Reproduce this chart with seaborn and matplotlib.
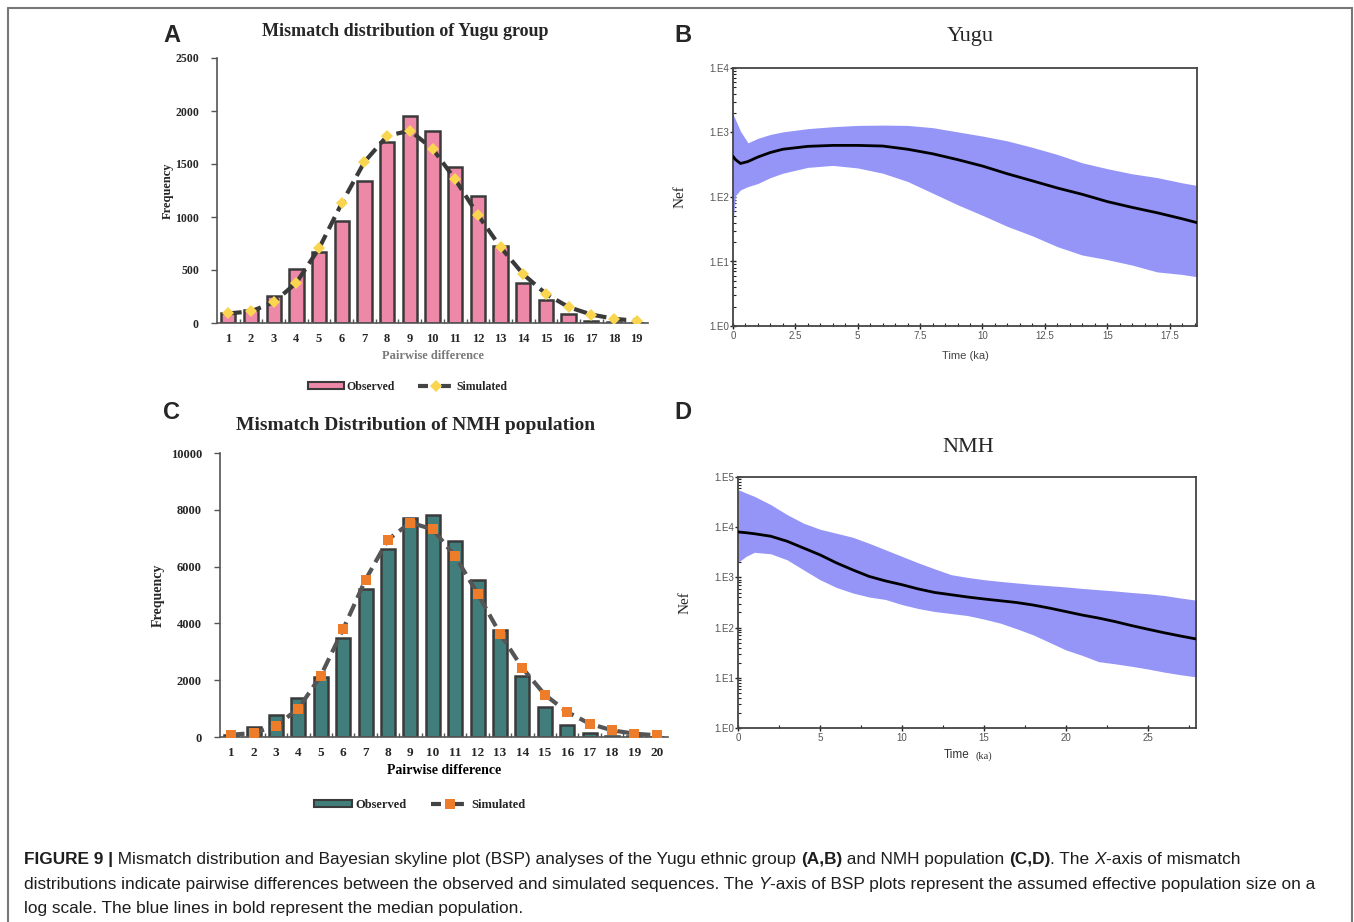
import numpy as np
import pandas as pd
import matplotlib
matplotlib.use("Agg")
import matplotlib.pyplot as plt
import matplotlib.ticker as mticker
from matplotlib.lines import Line2D
from matplotlib.patches import Patch
import seaborn as sns

# ---------------- data ----------------
yugu_diff = [str(i) for i in range(1, 20)]
yugu_observed = [95, 120, 250, 505, 670, 965, 1335, 1710, 1950, 1810, 1470, 1200, 725, 375, 220, 85, 20, 5, 0]
yugu_simulated = [90, 110, 195, 380, 705, 1130, 1520, 1765, 1815, 1645, 1355, 1020, 715, 460, 275, 150, 80, 40, 20]

nmh_diff = [str(i) for i in range(1, 21)]
nmh_observed = [80, 350, 760, 1370, 2110, 3500, 5200, 6630, 7710, 7830, 6900, 5520, 3760, 2140, 1045, 435, 150, 45, 20, 0]
nmh_simulated = [80, 140, 390, 1000, 2160, 3800, 5540, 6950, 7550, 7310, 6360, 5050, 3640, 2430, 1490, 880, 470, 235, 117, 60]

yugu_time = [0, 0.1, 0.3, 0.6, 1, 1.5, 2, 3, 4, 5, 6, 7, 8, 9, 10, 11, 12, 13, 14, 15, 16, 17, 18, 18.6]
yugu_median = [427, 380, 331, 355, 417, 490, 550, 610, 631, 631, 617, 550, 468, 380, 302, 229, 178, 138, 110, 85, 69, 57, 46, 40]
yugu_upper = [1905, 1585, 1047, 692, 813, 933, 1023, 1148, 1230, 1288, 1303, 1288, 1189, 1023, 881, 741, 589, 457, 339, 275, 229, 200, 166, 151]
yugu_lower = [40, 105, 129, 145, 162, 200, 234, 288, 309, 282, 234, 174, 115, 76, 52, 35, 25, 17, 12.6, 10.7, 8.8, 6.9, 6.3, 5.8]

nmh_time = [0, 0.5, 1, 2, 3, 4, 5, 6, 7, 8, 9, 10, 11, 12, 13, 14, 15, 16, 17, 18, 19, 20, 21, 22, 23, 24, 25, 26, 27, 28]
nmh_median = [8035, 7762, 7413, 6607, 5248, 3846, 2818, 1950, 1413, 1047, 851, 716, 589, 501, 452, 407, 372, 343, 316, 282, 245, 209, 178, 155, 132, 110, 93, 79, 68, 59]
nmh_upper = [56234, 47863, 41210, 28184, 17783, 12023, 9120, 7586, 6310, 4786, 3548, 2630, 1950, 1479, 1135, 1000, 902, 832, 776, 724, 684, 646, 603, 569, 537, 501, 473, 437, 389, 351]
nmh_lower = [1995, 2630, 3162, 2951, 2239, 1413, 902, 631, 490, 407, 363, 288, 240, 209, 191, 174, 148, 123, 95, 72, 51, 36, 28, 21, 19, 17, 15, 13, 11.5, 10.4]

log_ticks_b = [1, 10, 100, 1000, 10000]
log_labels_b = ["1.E0", "1.E1", "1.E2", "1.E3", "1.E4"]
log_ticks_d = [1, 10, 100, 1000, 10000, 100000]
log_labels_d = ["1.E0", "1.E1", "1.E2", "1.E3", "1.E4", "1.E5"]

# ---------------- style ----------------
sns.set_theme(style="ticks")
plt.rcParams["font.family"] = ["Liberation Serif", "DejaVu Serif"]
plt.rcParams["axes.linewidth"] = 1.0

W, H = 1354, 922
fig = plt.figure(figsize=(W / 100, H / 100), dpi=100)
fig.patch.set_facecolor("white")


def fx(px):
    return px / W


def fy(py):
    return 1 - py / H


def axes_px(x0, y0, x1, y1):
    return fig.add_axes([fx(x0), fy(y1), fx(x1 - x0), (y1 - y0) / H])


SERIF = ["Liberation Serif", "DejaVu Serif"]
SANS = ["Liberation Sans", "DejaVu Sans"]

# ---------------- mismatch panels ----------------
def mismatch(ax, cats, obs, sim, ymax, ystep, bar_color, line_color, mk, mk_color, mk_size,
             tick_fs, label_color, label_fs, ylabpad):
    df = pd.DataFrame({"diff": cats, "obs": obs})
    sns.barplot(data=df, x="diff", y="obs", order=cats, color=bar_color, saturation=1,
                edgecolor="#3a3a3a", linewidth=1.8, width=0.63, ax=ax)
    pos = np.arange(len(cats))
    ax.plot(pos, sim, linestyle=(0, (3.2, 1.6)), color=line_color, lw=3.0, zorder=3)
    ax.plot(pos, sim, linestyle="none", marker=mk, color=mk_color, markersize=mk_size,
            markeredgewidth=0, zorder=4)
    ax.set_xlim(-0.5, len(cats) - 0.5)
    ax.set_ylim(0, ymax)
    ax.set_yticks(np.arange(0, ymax + 1, ystep))
    sns.despine(ax=ax)
    for s in ["left", "bottom"]:
        ax.spines[s].set_color("#555555")
        ax.spines[s].set_linewidth(1.2)
    ax.tick_params(axis="y", length=4, width=1, color="#555555", labelsize=tick_fs, pad=9)
    ax.tick_params(axis="x", length=0, labelsize=tick_fs + 0.5, pad=7)
    ax.set_xticks(np.arange(0.5, len(cats) - 0.5), minor=True)
    ax.tick_params(axis="x", which="minor", length=3, direction="in", color="#555555")
    for lab in ax.get_xticklabels() + ax.get_yticklabels():
        lab.set_fontweight("bold")
        lab.set_family(SERIF)
    ax.set_ylabel("Frequency", fontsize=label_fs, fontweight="bold", family=SERIF, labelpad=ylabpad)
    ax.set_xlabel("Pairwise difference", fontsize=label_fs, fontweight="bold", family=SERIF,
                  color=label_color, labelpad=4)
    ax.set_facecolor("white")


axA = axes_px(217, 58, 648, 323)
mismatch(axA, yugu_diff, yugu_observed, yugu_simulated, 2500, 500, "#EE88A8", "#3a3a3a",
         "D", "#F9D550", 6.5, 8.5, "#7a7a7a", 9, 1)
fig.text(fx(405), fy(32), "Mismatch distribution of Yugu group", ha="center", va="center",
         fontsize=13, fontweight="bold", family=SERIF)

axC = axes_px(220, 453, 668, 737)
mismatch(axC, nmh_diff, nmh_observed, nmh_simulated, 10000, 2000, "#417E7B", "#555555",
         "s", "#EE7D2B", 7, 9, "black", 10, 4)
fig.text(fx(416), fy(425), "Mismatch Distribution of NMH population", ha="center", va="center",
         fontsize=14, fontweight="bold", family=SERIF)

# legends
def mm_legend(cx, cy, bar_color, mk, mk_color, fs):
    handles = [Patch(facecolor=bar_color, edgecolor="#3a3a3a", linewidth=1.5),
               Line2D([0], [0], color="#444444", lw=3, linestyle=(0, (2.4, 3.1)), marker=mk,
                      markerfacecolor=mk_color, markeredgewidth=0, markersize=6.5)]
    fig.legend(handles, ["Observed", "Simulated"], loc="center", bbox_to_anchor=(fx(cx), fy(cy)),
               ncol=2, frameon=False, handlelength=3.0, handleheight=0.55, handletextpad=0.25,
               columnspacing=2.0, prop={"family": SERIF, "weight": "bold", "size": fs})


mm_legend(408, 387, "#EE88A8", "D", "#F9D550", 8.5)
mm_legend(420, 805, "#417E7B", "s", "#EE7D2B", 9)

# ---------------- BSP panels ----------------
BAND = "#9595F8"


def bsp(ax, t, med, lo, hi, xmax, xmajor, xminor, yticks, ylabels):
    ax.fill_between(t, lo, hi, color=BAND, linewidth=0, zorder=1)
    sns.lineplot(x=t, y=med, color="black", lw=2.0, ax=ax, zorder=3, sort=False)
    ax.set_yscale("log")
    ax.set_ylim(yticks[0], yticks[-1])
    ax.set_xlim(0, xmax)
    ax.set_yticks(yticks)
    ax.set_yticklabels(ylabels)
    ax.yaxis.set_minor_locator(mticker.LogLocator(base=10, subs=np.arange(2, 10), numticks=20))
    ax.yaxis.set_minor_formatter(mticker.NullFormatter())
    ax.xaxis.set_major_locator(mticker.MultipleLocator(xmajor))
    ax.xaxis.set_minor_locator(mticker.MultipleLocator(xminor))
    ax.xaxis.set_major_formatter(mticker.FuncFormatter(lambda v, p: f"{v:g}"))
    for s in ax.spines.values():
        s.set_visible(True)
        s.set_color("#444444")
        s.set_linewidth(1.3)
    ax.tick_params(axis="both", which="major", direction="inout", length=5, width=1,
                   color="#222222", labelsize=7, labelcolor="#555555", pad=1)
    ax.tick_params(axis="both", which="minor", direction="in", length=2.5, width=0.8,
                   color="#222222")
    ax.tick_params(axis="y", pad=0)
    for lab in ax.get_xticklabels() + ax.get_yticklabels():
        lab.set_family(SANS)
    ax.set_ylabel("Nef", fontsize=11, family=SERIF, labelpad=17)
    ax.set_facecolor("white")


axB = axes_px(733, 68, 1197, 326)
bsp(axB, yugu_time, yugu_median, yugu_lower, yugu_upper, 18.6, 2.5, 0.5, log_ticks_b, log_labels_b)
axB.set_xlabel("Time (ka)", fontsize=8, family=SANS, color="#444444", labelpad=7)
fig.text(fx(970), fy(36), "Yugu", ha="center", va="center", fontsize=16, family=SERIF)

axD = axes_px(738, 477, 1196, 728)
bsp(axD, nmh_time, nmh_median, nmh_lower, nmh_upper, 27.95, 5, 2.5, log_ticks_d, log_labels_d)
axD.set_xlabel("")
fig.text(fx(957), fy(755), "Time", ha="center", va="center", fontsize=8.5, family=SANS,
         color="#333333")
fig.text(fx(984), fy(756), "(ka)", ha="center", va="center", fontsize=7.5, family=SERIF,
         color="#333333")
fig.text(fx(968), fy(447), "NMH", ha="center", va="center", fontsize=16, family=SERIF)

# ---------------- panel letters ----------------
for letter, x, y in [("A", 172, 35), ("B", 683, 35), ("C", 172, 412), ("D", 683, 412)]:
    fig.text(fx(x), fy(y), letter, ha="center", va="center", fontsize=17, fontweight="bold",
             family=SANS)

# ---------------- frame ----------------
for xs, ys in [([8, 8], [8, H + 2]), ([8, 1352], [8, 8]), ([1352, 1352], [8, H + 2])]:
    fig.add_artist(Line2D([fx(v) for v in xs], [fy(v) for v in ys], color="#777777", lw=1.5,
                          transform=fig.transFigure))

# ---------------- caption ----------------
fig.canvas.draw()
renderer = fig.canvas.get_renderer()
CAP_FS = 12.4


def rich_line(x_px, y_px, parts):
    x = fx(x_px)
    for txt, style in parts:
        kw = dict(fontsize=CAP_FS, family=SANS, va="center", ha="left", color="#1e1e1e")
        if style == "b":
            kw["fontweight"] = "bold"
        if style == "i":
            kw["fontstyle"] = "italic"
        t = fig.text(x, fy(y_px), txt, **kw)
        bb = t.get_window_extent(renderer)
        x += bb.width / fig.bbox.width


rich_line(24, 859, [("FIGURE 9 |", "b"),
                    (" Mismatch distribution and Bayesian skyline plot (BSP) analyses of the Yugu ethnic group ", ""),
                    ("(A,B)", "b"), (" and NMH population ", ""), ("(C,D)", "b"),
                    (". The ", ""), ("X", "i"), ("-axis of mismatch", "")])
rich_line(24, 884, [("distributions indicate pairwise differences between the observed and simulated sequences. The ", ""),
                    ("Y", "i"),
                    ("-axis of BSP plots represent the assumed effective population size on a", "")])
rich_line(24, 908, [("log scale. The blue lines in bold represent the median population.", "")])

fig.savefig("out.png", dpi=100, facecolor="white")
